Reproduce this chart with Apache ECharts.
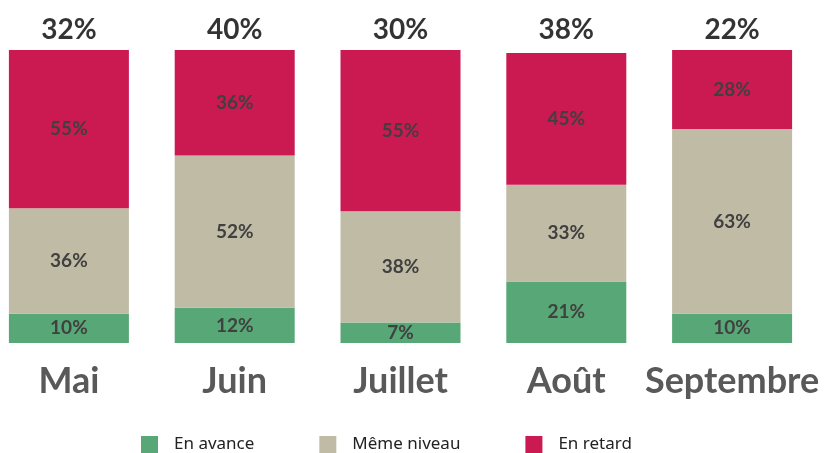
<!DOCTYPE html>
<html>
<head>
<meta charset="utf-8">
<script src="https://cdn.jsdelivr.net/npm/echarts@6/dist/echarts.min.js"></script>
<style>
  html, body { margin: 0; padding: 0; background: #fff; }
  #chart { width: 825px; height: 453px; }
</style>
</head>
<body>
<div id="chart"></div>
<script>
// mois et parts (%)
const months = ['Mai', 'Juin', 'Juillet', 'Août', 'Septembre']
const enAvance = [10, 12, 7, 21, 10]
const memeNiveau = [36, 52, 38, 33, 63]
const enRetard = [55, 36, 55, 45, 28]
const topLabels = ['32%', '40%', '30%', '38%', '22%']

const colors = ['#57A876', '#C0BBA5', '#CB1A52']
const inner = {
  show: true,
  position: 'inside',
  formatter: p => p.value + '%',
  color: '#404040',
  fontFamily: 'Lato',
  fontWeight: 'bold',
  fontSize: 19
}

const chart = echarts.init(document.getElementById('chart'))

chart.setOption({
  animation: false,
  color: colors,
  grid: { left: -14, right: 10, top: 50, bottom: 110, outerBoundsMode: 'none', containLabel: false },
  legend: {
    top: 436,
    left: 141,
    padding: 0,
    itemWidth: 17,
    itemHeight: 17,
    itemGap: 65,
    icon: 'rect',
    data: ['En avance', 'Même niveau', 'En retard'],
    textStyle: { fontFamily: 'Noto Sans', fontSize: 17, color: '#222', padding: [0, 0, 0, 11] }
  },
  xAxis: {
    type: 'category',
    data: months,
    axisLine: { show: false },
    axisTick: { show: false },
    axisLabel: {
      interval: 0,
      margin: 20,
      color: '#595959',
      fontFamily: 'Lato',
      fontWeight: 'bold',
      fontSize: 36
    }
  },
  yAxis: {
    type: 'value',
    min: 0,
    max: 100,
    show: false,
    splitLine: { show: false }
  },
  series: [
    { name: 'En avance', type: 'bar', stack: 'total', barWidth: 120, data: enAvance, label: inner },
    { name: 'Même niveau', type: 'bar', stack: 'total', barWidth: 120, data: memeNiveau, label: inner },
    { name: 'En retard', type: 'bar', stack: 'total', barWidth: 120, data: enRetard, label: inner },
    {
      name: 'total',
      type: 'scatter',
      symbolSize: 0,
      data: months.map(() => 100),
      silent: true,
      label: {
        show: true,
        position: 'top',
        distance: 6,
        formatter: p => topLabels[p.dataIndex],
        color: '#000',
        fontFamily: 'Lato',
        fontWeight: 'bold',
        fontSize: 28
      }
    }
  ]
})
</script>
</body>
</html>
